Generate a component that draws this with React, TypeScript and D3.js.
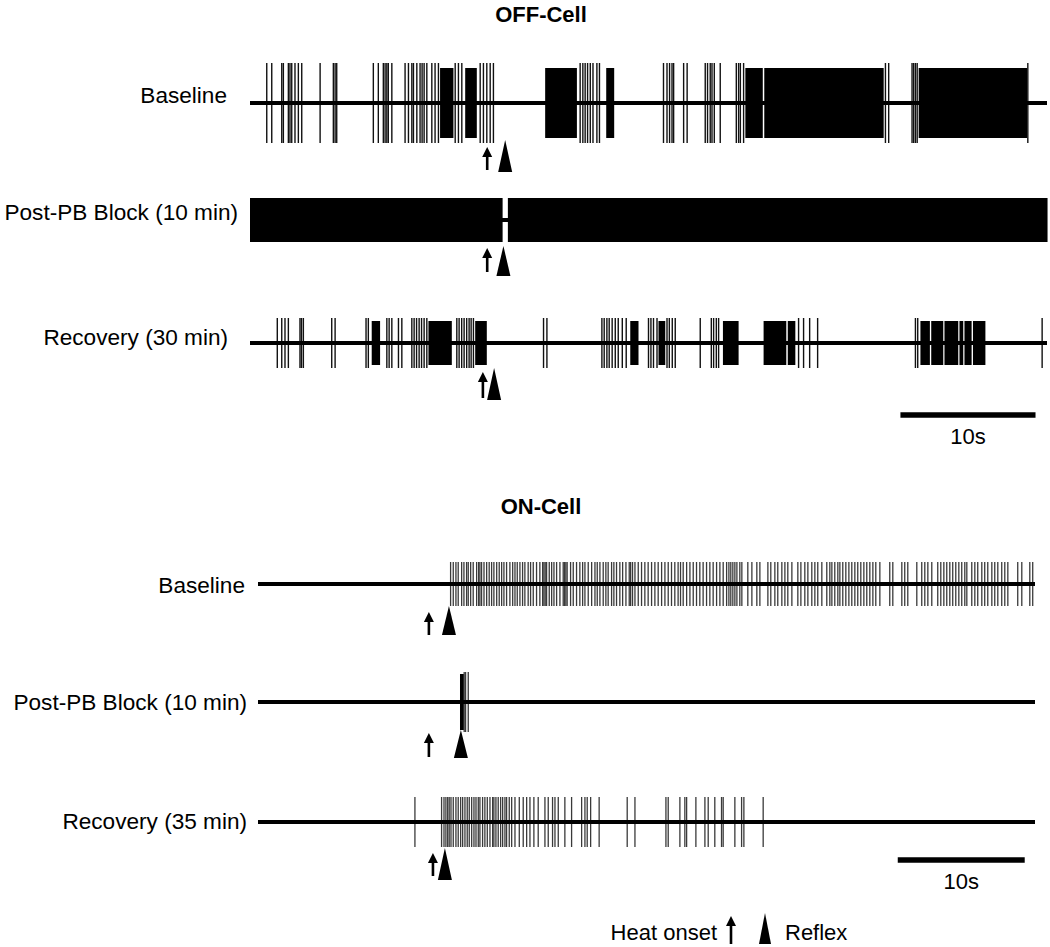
import React from 'react'
import * as d3 from 'd3'

const W = 1050
const H = 947
const FONT = '"Liberation Sans", Arial, Helvetica, sans-serif'

// ---- OFF-cell (times in s) ----
const offBaselineSpikes = [
  1.24, 1.61, 2.35, 2.47, 2.84, 2.96, 3.09, 3.33, 3.58, 3.83, 5.19, 6.17, 6.3, 6.42,
  9.13, 9.5, 9.87, 10.0, 10.13, 10.24, 10.5, 11.48, 11.73, 11.98, 12.1, 12.35, 12.59,
  12.74, 12.89, 13.09, 13.46, 13.7, 13.95, 15.19, 15.43, 15.68, 17.04, 17.28, 17.53,
  17.78, 18.02, 24.44, 24.64, 24.81, 24.99, 25.19, 25.39, 25.68, 25.87, 30.61, 30.87,
  31.06, 31.24, 31.36, 32.1, 32.36, 33.7, 33.87, 34.07, 34.2, 34.37, 34.81, 36.0, 36.17,
  36.3, 36.54, 47.04, 47.28, 49.01, 49.13, 49.26, 49.39, 57.58,
]
const offBaselineBursts = [
  [14.07, 15.06], [15.93, 16.79], [21.85, 24.2], [26.37, 26.96], [36.67, 37.96],
  [38.07, 46.91], [49.5, 57.53],
]
const offBlockBursts = [[0, 18.7], [19.09, 59.04]]
const offRecoverySpikes = [
  2.02, 2.35, 2.59, 2.84, 3.7, 3.81, 3.95, 6.05, 6.3, 8.59, 8.76, 10.13, 10.3, 10.5,
  10.99, 11.24, 11.98, 12.15, 12.33, 12.52, 12.7, 12.89, 13.09, 15.31, 15.48, 15.67,
  15.85, 16.04, 16.22, 16.37, 16.54, 21.73, 21.98, 26.05, 26.22, 26.42, 26.59, 26.81,
  27.04, 27.26, 27.56, 27.85, 29.5, 29.68, 29.87, 30.13, 30.87, 31.04, 31.26, 31.48,
  33.33, 34.15, 34.32, 34.52, 34.69, 40.61, 40.98, 41.43, 42.02, 49.26, 49.43, 58.64,
]
const offRecoveryBursts = [
  [9.01, 9.63], [13.21, 14.94], [16.67, 17.53], [28.15, 28.76], [30.24, 30.74],
  [35.01, 36.17], [38.02, 39.7], [39.81, 40.37], [49.63, 50.33], [50.43, 51.32],
  [51.41, 52.43], [52.52, 52.8], [52.89, 53.42], [53.52, 54.44],
]
// heat onset, reflex
const offEvents = [
  [17.56, 18.89],
  [17.56, 18.76],
  [17.24, 18.07],
]

// ---- ON-cell (times in s) ----
const onBaselineSpikes = [
  15.17, 15.38, 15.59, 15.77, 16.04, 16.22, 16.43, 16.56, 16.75, 16.95, 17.22, 17.38,
  17.48, 17.61, 17.8, 18.01, 18.21, 18.4, 18.58, 18.8, 19.0, 19.19, 19.37, 19.58, 19.84,
  20.06, 20.24, 20.42, 20.63, 20.84, 21.02, 21.28, 21.47, 21.68, 21.94, 22.2, 22.42,
  22.52, 22.62, 22.73, 22.94, 23.13, 23.31, 23.52, 23.78, 24.04, 24.15, 24.25, 24.35,
  24.62, 24.83, 25.09, 25.35, 25.57, 25.75, 26.01, 26.28, 26.54, 26.72, 26.93, 27.19,
  27.4, 27.58, 27.85, 28.03, 28.24, 28.5, 28.72, 28.98, 29.24, 29.35, 29.5, 29.69,
  29.95, 30.21, 30.47, 30.73, 31.0, 31.26, 31.52, 31.79, 32.05, 32.31, 32.57, 32.83,
  33.09, 33.28, 33.49, 33.76, 34.02, 34.28, 34.54, 34.8, 35.06, 35.33, 35.59, 35.85,
  36.12, 36.38, 36.64, 36.91, 37.09, 37.24, 37.4, 37.56, 37.72, 37.95, 38.11, 38.58,
  38.9, 39.29, 39.53, 40.16, 40.39, 40.71, 40.94, 41.26, 41.5, 41.73, 42.05, 42.52,
  42.76, 43.07, 43.31, 43.62, 43.86, 44.09, 44.41, 44.8, 45.04, 45.2, 45.43, 45.67,
  45.83, 46.06, 46.3, 46.54, 46.77, 47.01, 47.24, 47.48, 47.72, 47.95, 48.19, 48.43,
  48.66, 48.98, 49.76, 50.0, 50.71, 50.94, 51.18, 51.89, 52.28, 52.52, 52.76, 53.07,
  53.54, 53.78, 54.02, 54.25, 54.49, 54.72, 54.96, 55.2, 55.43, 55.67, 55.83, 56.22,
  56.46, 56.69, 57.01, 57.24, 57.48, 57.8, 58.03, 58.27, 58.58, 58.82, 59.06, 59.84,
  60.16, 60.79, 61.02,
]
const onBlockSpikes = [16.24, 16.35, 16.56]
const onBlockBursts = [[15.91, 16.22]]
const onRecoverySpikes = [
  12.36, 14.46, 14.65, 14.8, 14.94, 15.06, 15.2, 15.38, 15.59, 15.77, 15.96, 16.12,
  16.3, 16.48, 16.64, 16.83, 17.01, 17.17, 17.35, 17.48, 17.69, 17.87, 18.06, 18.27,
  18.48, 18.58, 18.74, 18.92, 19.11, 19.27, 19.45, 19.58, 19.79, 19.98, 20.24, 20.58,
  20.89, 21.16, 21.42, 21.73, 22.07, 22.6, 22.86, 23.2, 23.39, 23.65, 24.17, 24.7,
  25.49, 25.75, 25.93, 26.2, 26.87, 29.08, 29.69, 32.13, 32.31, 33.23, 33.62, 33.76,
  34.49, 35.2, 35.46, 35.98, 36.51, 36.64, 37.56, 38.09, 38.27, 39.79,
]
const onEvents = [
  [13.46, 15.04],
  [13.46, 15.98],
  [13.78, 14.72],
]

const offLabels = ['Baseline', 'Post-PB Block (10 min)', 'Recovery (30 min)']
const onLabels = ['Baseline', 'Post-PB Block (10 min)', 'Recovery (35 min)']
const scaleBarSeconds = 10

const xOff = d3.scaleLinear().domain([0, 59]).range([250, 1047])
const xOn = d3.scaleLinear().domain([0, 61.2]).range([258, 1035])

type Trace = {
  label: string
  labelX: number
  labelY: number
  x: d3.ScaleLinear<number, number>
  center: number
  spikeH: number
  burstH: number
  spikes: number[]
  bursts: number[][]
  spikeColor: string
  spikeWidth: number
  heat: number
  reflex: number
  arrow: [number, number]
  tri: [number, number]
}

const offTraces: Trace[] = [
  {
    label: offLabels[0], labelX: 227, labelY: 103, x: xOff, center: 103, spikeH: 40, burstH: 35,
    spikes: offBaselineSpikes, bursts: offBaselineBursts, spikeColor: '#111', spikeWidth: 1.4,
    heat: offEvents[0][0], reflex: offEvents[0][1], arrow: [147, 170], tri: [140, 172],
  },
  {
    label: offLabels[1], labelX: 238, labelY: 220, x: xOff, center: 220, spikeH: 22, burstH: 22,
    spikes: [], bursts: offBlockBursts, spikeColor: '#111', spikeWidth: 1.4,
    heat: offEvents[1][0], reflex: offEvents[1][1], arrow: [248, 272], tri: [246, 276],
  },
  {
    label: offLabels[2], labelX: 228, labelY: 345, x: xOff, center: 343, spikeH: 25, burstH: 22,
    spikes: offRecoverySpikes, bursts: offRecoveryBursts, spikeColor: '#111', spikeWidth: 1.4,
    heat: offEvents[2][0], reflex: offEvents[2][1], arrow: [372, 398], tri: [368, 400],
  },
]

const onTraces: Trace[] = [
  {
    label: onLabels[0], labelX: 245, labelY: 593, x: xOn, center: 584, spikeH: 22, burstH: 22,
    spikes: onBaselineSpikes, bursts: [], spikeColor: '#3a3a3a', spikeWidth: 1.3,
    heat: onEvents[0][0], reflex: onEvents[0][1], arrow: [612, 635], tri: [606, 635],
  },
  {
    label: onLabels[1], labelX: 247, labelY: 710, x: xOn, center: 702, spikeH: 30, burstH: 28,
    spikes: onBlockSpikes, bursts: onBlockBursts, spikeColor: '#3a3a3a', spikeWidth: 1.3,
    heat: onEvents[1][0], reflex: onEvents[1][1], arrow: [733, 757], tri: [730, 758],
  },
  {
    label: onLabels[2], labelX: 247, labelY: 829, x: xOn, center: 822, spikeH: 25, burstH: 25,
    spikes: onRecoverySpikes, bursts: [], spikeColor: '#3a3a3a', spikeWidth: 1.3,
    heat: onEvents[2][0], reflex: onEvents[2][1], arrow: [853, 876], tri: [848, 880],
  },
]

const Arrow = ({ x, top, bottom }: { x: number; top: number; bottom: number }) => (
  <g>
    <line x1={x} x2={x} y1={top + 8} y2={bottom} stroke="#000" strokeWidth={2.6} />
    <polygon points={`${x - 5},${top + 10} ${x},${top} ${x + 5},${top + 10}`} fill="#000" />
  </g>
)

const Reflex = ({ x, top, bottom, w = 7 }: { x: number; top: number; bottom: number; w?: number }) => (
  <polygon points={`${x - w},${bottom} ${x},${top} ${x + w},${bottom}`} fill="#000" />
)

const TraceRow = ({ t }: { t: Trace }) => {
  const [d0, d1] = t.x.domain()
  return (
    <g>
      <text x={t.labelX} y={t.labelY} textAnchor="end" fontSize={22.6} fontFamily={FONT}>
        {t.label}
      </text>
      {t.bursts.map((b, i) => (
        <rect
          key={'b' + i}
          x={t.x(b[0])}
          width={t.x(b[1]) - t.x(b[0])}
          y={t.center - t.burstH}
          height={t.burstH * 2}
          fill="#000"
        />
      ))}
      {t.spikes.map((s, i) => (
        <line
          key={'s' + i}
          x1={t.x(s)}
          x2={t.x(s)}
          y1={t.center - t.spikeH}
          y2={t.center + t.spikeH}
          stroke={t.spikeColor}
          strokeWidth={t.spikeWidth}
        />
      ))}
      <line x1={t.x(d0)} x2={t.x(d1)} y1={t.center} y2={t.center} stroke="#000" strokeWidth={4} />
      <Arrow x={t.x(t.heat)} top={t.arrow[0]} bottom={t.arrow[1]} />
      <Reflex x={t.x(t.reflex)} top={t.tri[0]} bottom={t.tri[1]} />
    </g>
  )
}

const ScaleBar = ({ x, start, y }: { x: d3.ScaleLinear<number, number>; start: number; y: number }) => {
  const x0 = x(start)
  const x1 = x(start + scaleBarSeconds)
  return (
    <g>
      <line x1={x0} x2={x1} y1={y} y2={y} stroke="#000" strokeWidth={5.5} />
      <text x={(x0 + x1) / 2} y={y + 29} textAnchor="middle" fontSize={22} fontFamily={FONT}>
        {scaleBarSeconds}s
      </text>
    </g>
  )
}

export default function App() {
  return (
    <svg
      width={W}
      height={H}
      style={{ position: 'absolute', left: 0, top: 0, background: '#fff' }}
      fontFamily={FONT}
    >
      <text x={541} y={22} textAnchor="middle" fontSize={22} fontWeight="bold">OFF-Cell</text>
      {offTraces.map((t, i) => <TraceRow key={'off' + i} t={t} />)}
      <ScaleBar x={xOff} start={48.15} y={415} />

      <text x={541} y={514} textAnchor="middle" fontSize={22} fontWeight="bold">ON-Cell</text>
      {onTraces.map((t, i) => <TraceRow key={'on' + i} t={t} />)}
      <ScaleBar x={xOn} start={50.39} y={860} />

      <text x={717} y={940} textAnchor="end" fontSize={22}>Heat onset</text>
      <Arrow x={731} top={916} bottom={944} />
      <Reflex x={765} top={913} bottom={944} w={6} />
      <text x={785} y={940} fontSize={22}>Reflex</text>
    </svg>
  )
}
